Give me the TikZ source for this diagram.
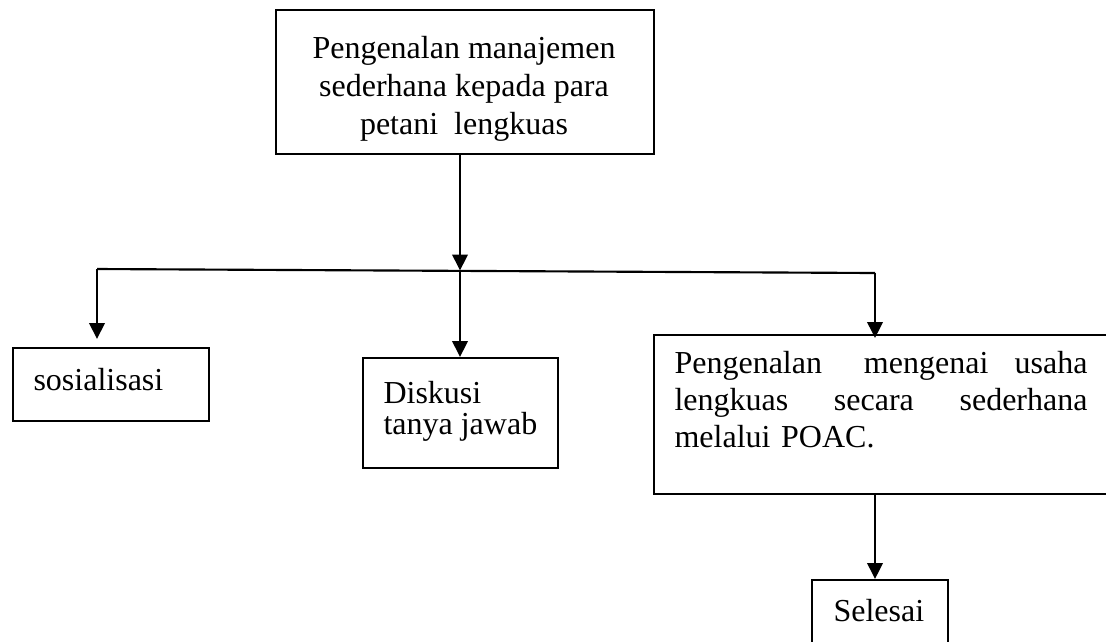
\documentclass[tikz,border=0pt]{standalone}
\usepackage{fontspec}
\setmainfont{Liberation Serif}
\usepackage{tikz}
\usetikzlibrary{arrows.meta}

\begin{document}
\begin{tikzpicture}[x=0.375pt, y=-0.375pt,
  kotak/.style={draw, line width=0.8pt, anchor=north west, inner sep=0pt},
  teks/.style={inner sep=0pt, font=\fontsize{12}{14.25}\selectfont},
  panah/.style={line width=0.8pt, -{Triangle[length=6pt, width=5.8pt]}}]
\useasboundingbox (0,0) rectangle (1106,641);
\node[kotak, minimum width=141.75pt, minimum height=54pt] (atas) at (275,9) {};
\node[kotak, minimum width=73.5pt, minimum height=27.375pt] (sos) at (12,347) {};
\node[kotak, minimum width=73.125pt, minimum height=41.25pt] (disk) at (362,357) {};
\node[kotak, minimum width=172.5pt, minimum height=59.625pt] (poac) at (653,334) {};
\node[kotak, minimum width=51pt, minimum height=30pt] (selesai) at (811,579) {};
\node[teks, anchor=base, align=center] (tatas) at (464,134) {Pengenalan manajemen\\ sederhana kepada para\\ petani\ \ lengkuas};
\node[teks, anchor=base west] (tsos) at (33,390) {sosialisasi};
\node[teks, anchor=base west, align=left, font=\fontsize{12}{11.625}\selectfont] (tdisk) at (383,434) {Diskusi\\ tanya jawab};
\node[teks, anchor=base west, text width=154.875pt, align=left, font=\fontsize{12}{13.875}\selectfont] (tpoac) at (674,373) {Pengenalan \hfill\hfill mengenai \hfill usaha\\ lengkuas \hfill secara \hfill sederhana\\ melalui POAC.};
\node[teks, anchor=base west] (tselesai) at (833,621) {Selesai};
\coordinate (kiri) at (97,269);
\coordinate (tengah) at (460,270.5);
\coordinate (kanan) at (875,273);
\draw[line width=0.8pt] (kiri) -- (kanan);
\draw[panah] (atas.south -| tengah) -- (tengah);
\draw[panah, shorten >=3pt] (kiri) -- (sos.north -| kiri);
\draw[panah] (tengah) -- (disk.north -| tengah);
\draw[panah, shorten >=-1.5pt] (kanan) -- (poac.north -| kanan);
\draw[panah] (poac.south -| kanan) -- (selesai.north -| kanan);
\end{tikzpicture}
\end{document}
